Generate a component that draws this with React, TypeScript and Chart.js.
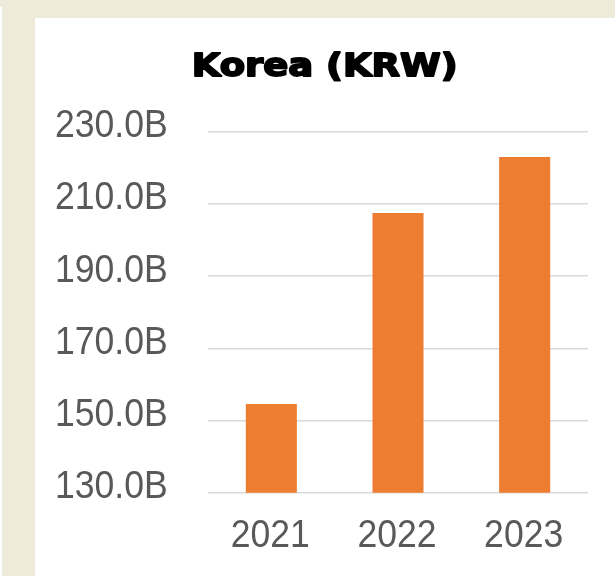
import React, { useEffect, useRef } from "react";
import { Chart, registerables } from "chart.js";

Chart.register(...registerables);

const categories: string[] = ["2021", "2022", "2023"];
const values: number[] = [154.6, 207.5, 223.0];
const yTicks: number[] = [130, 150, 170, 190, 210, 230];
const titleText = "Korea (KRW)";

const BEIGE = "#EEEBDA";
const ORANGE = "#ED7D31";
const TICK_COLOR = "#595959";
const GRID_COLOR = "#D9D9D9";
const TICK_FONT = "39.5px 'Liberation Sans', Arial, sans-serif";
const TICK_SX = 0.9;

const fmt = (v: number) => v.toFixed(1) + "B";

const titlePlugin = {
  id: "customTitle",
  afterDraw(chart: any) {
    const ctx = chart.ctx as CanvasRenderingContext2D;
    ctx.save();
    ctx.font = "bold 32px 'DejaVu Sans', sans-serif";
    ctx.fillStyle = "#000000";
    ctx.strokeStyle = "#000000";
    ctx.lineWidth = 1.8;
    ctx.lineJoin = "round";
    ctx.textAlign = "center";
    ctx.textBaseline = "alphabetic";
    const w = ctx.measureText(titleText).width;
    const target = 266;
    const sx = target / w;
    ctx.translate(289.7, 57.7);
    ctx.scale(sx, 1);
    ctx.fillText(titleText, 0, 0);
    ctx.strokeText(titleText, 0, 0);
    ctx.restore();
  },
};

const tickLabelPlugin = {
  id: "narrowTicks",
  afterDraw(chart: any) {
    const ctx = chart.ctx as CanvasRenderingContext2D;
    const ys = chart.scales.y;
    const xs = chart.scales.x;
    ctx.save();
    ctx.font = TICK_FONT;
    ctx.fillStyle = TICK_COLOR;
    ctx.textBaseline = "alphabetic";
    // y labels
    ctx.textAlign = "right";
    ys.ticks.forEach((t: any) => {
      const py = ys.getPixelForValue(t.value);
      ctx.save();
      ctx.translate(chart.chartArea.left - 40.3, py + 5.5);
      ctx.scale(TICK_SX, 1);
      ctx.fillText(fmt(t.value), 0, 0);
      ctx.restore();
    });
    // x labels
    ctx.textAlign = "center";
    categories.forEach((c, i) => {
      const px = xs.getPixelForTick(i);
      ctx.save();
      ctx.translate(px - 1, chart.chartArea.bottom + 54);
      ctx.scale(TICK_SX, 1);
      ctx.fillText(c, 0, 0);
      ctx.restore();
    });
    ctx.restore();
  },
};

export default function App() {
  const canvasRef = useRef<HTMLCanvasElement | null>(null);

  useEffect(() => {
    const canvas = canvasRef.current;
    if (!canvas) return;
    const chart = new Chart(canvas, {
      type: "bar",
      data: {
        labels: categories,
        datasets: [
          {
            data: values,
            backgroundColor: ORANGE,
            borderWidth: 0,
            categoryPercentage: 1,
            barPercentage: 0.403,
          },
        ],
      },
      options: {
        animation: false,
        responsive: false,
        devicePixelRatio: 1,
        layout: { padding: { left: 0, right: 27, top: 113.7, bottom: 0 } },
        plugins: {
          legend: { display: false },
          title: { display: false },
          tooltip: { enabled: false },
        },
        scales: {
          x: {
            grid: { display: false, drawTicks: false },
            border: { display: false },
            ticks: { display: false },
            afterFit(scale: any) {
              scale.height = 83.3;
            },
          },
          y: {
            min: 130,
            max: 230,
            afterBuildTicks(scale: any) {
              scale.ticks = yTicks.map((v) => ({ value: v }));
            },
            grid: { color: GRID_COLOR, lineWidth: 1.5, drawTicks: false },
            border: { display: false },
            ticks: { display: false },
            afterFit(scale: any) {
              scale.width = 173;
            },
          },
        },
      },
      plugins: [titlePlugin, tickLabelPlugin],
    });
    return () => chart.destroy();
  }, []);

  return (
    <div
      style={{
        position: "fixed",
        left: 0,
        top: 0,
        width: 615,
        height: 576,
        background: BEIGE,
        overflow: "hidden",
      }}
    >
      <div
        style={{
          position: "absolute",
          left: 0,
          top: 7,
          width: 2,
          height: 569,
          background: "#FFFFFF",
        }}
      />
      <canvas
        ref={canvasRef}
        width={580}
        height={558}
        style={{
          position: "absolute",
          left: 35,
          top: 18,
          width: 580,
          height: 558,
          background: "#FFFFFF",
        }}
      />
    </div>
  );
}
